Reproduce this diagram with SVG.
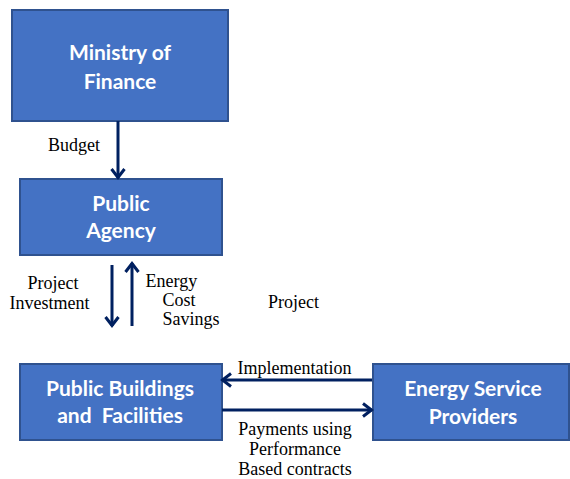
<svg xmlns="http://www.w3.org/2000/svg" width="570" height="479" viewBox="0 0 570 479">
<style>
.box{fill:#4472C4;stroke:#2F528F;stroke-width:2}
.bt{font-family:Lato,"Open Sans","Liberation Sans",sans-serif;font-weight:bold;font-size:21px;fill:#ffffff;text-anchor:middle}
.lb{font-family:"Liberation Serif","Times New Roman",serif;font-size:18px;fill:#000000}
.ar{stroke:#002060;stroke-width:3;fill:none;marker-end:url(#ah)}
</style>
<defs>
<marker id="ah" markerUnits="userSpaceOnUse" viewBox="-12 -9 14 18" refX="0" refY="0" markerWidth="14" markerHeight="18" orient="auto" overflow="visible">
<path d="M-9,-6.5 L-0.5,0 L-9,6.5" fill="none" stroke="#002060" stroke-width="3" stroke-linejoin="miter"/>
</marker>
</defs>
<rect width="570" height="479" fill="#ffffff"/>
<g id="ministry">
<rect class="box" x="12" y="10" width="216" height="111"/>
<text class="bt" x="120" y="60">Ministry of</text>
<text class="bt" x="120" y="89">Finance</text>
</g>
<g id="agency">
<rect class="box" x="20" y="179" width="202" height="76"/>
<text class="bt" x="121" y="211">Public</text>
<text class="bt" x="121" y="238">Agency</text>
</g>
<g id="buildings">
<rect class="box" x="20" y="364" width="202" height="76"/>
<text class="bt" x="120" y="396">Public Buildings</text>
<text class="bt" x="120" y="423" xml:space="preserve">and  Facilities</text>
</g>
<g id="esp">
<rect class="box" x="373" y="364" width="196" height="76"/>
<text class="bt" x="473" y="396">Energy Service</text>
<text class="bt" x="473" y="424">Providers</text>
</g>
<g id="connectors">
<line class="ar" x1="118" y1="121" x2="118" y2="178"/>
<line class="ar" x1="112" y1="265" x2="112" y2="326"/>
<line class="ar" x1="132" y1="326" x2="132" y2="263"/>
<line class="ar" x1="372" y1="380" x2="222" y2="380"/>
<line class="ar" x1="222" y1="410" x2="372" y2="410"/>
</g>
<g id="labels">
<text class="lb" x="48" y="151">Budget</text>
<text class="lb" x="53" y="289" text-anchor="middle">Project</text>
<text class="lb" x="49.5" y="309" text-anchor="middle">Investment</text>
<text class="lb" x="145.5" y="287">Energy</text>
<text class="lb" x="162.5" y="306">Cost</text>
<text class="lb" x="162.5" y="325">Savings</text>
<text class="lb" x="268" y="308">Project</text>
<text class="lb" x="294.5" y="374" text-anchor="middle">Implementation</text>
<text class="lb" x="295" y="435" text-anchor="middle">Payments using</text>
<text class="lb" x="295" y="455" text-anchor="middle">Performance</text>
<text class="lb" x="295" y="475" text-anchor="middle">Based contracts</text>
</g>
</svg>
